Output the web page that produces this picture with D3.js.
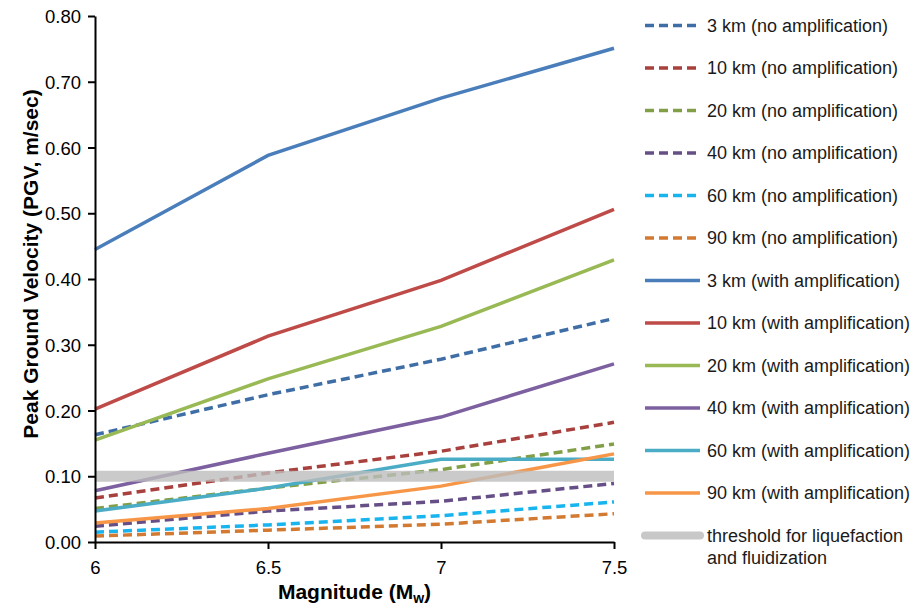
<!DOCTYPE html>
<html lang="en">
<head>
<meta charset="utf-8">
<style>
body { margin: 0; background: #fff; font-family: "Liberation Sans", Arial, Helvetica, sans-serif; }
.tick text { font-size: 18.5px; fill: #000; }
.domain, .tick line { stroke: #000; stroke-width: 2px; }
.legend text { font-size: 18px; fill: #1a1a1a; }
.title { font-size: 21px; font-weight: bold; fill: #000; }
</style>
</head>
<body>
<script src="https://cdn.jsdelivr.net/npm/d3@7"></script>
<script>

// magnitudes on the x axis
var magnitudes = [6, 6.5, 7, 7.5];

// peak ground velocity, m/sec
var noAmp3 = [0.163, 0.224, 0.278, 0.340];
var noAmp10 = [0.067, 0.105, 0.138, 0.182];
var noAmp20 = [0.051, 0.082, 0.110, 0.149];
var noAmp40 = [0.024, 0.047, 0.062, 0.089];
var noAmp60 = [0.015, 0.026, 0.040, 0.061];
var noAmp90 = [0.009, 0.018, 0.027, 0.043];
var amp3 = [0.445, 0.588, 0.675, 0.751];
var amp10 = [0.202, 0.313, 0.398, 0.506];
var amp20 = [0.155, 0.248, 0.328, 0.429];
var amp40 = [0.078, 0.135, 0.190, 0.271];
var amp60 = [0.047, 0.082, 0.126, 0.126];
var amp90 = [0.029, 0.051, 0.085, 0.134];
var threshold = [0.10, 0.10, 0.10, 0.10];

var yTicks = [0, 0.1, 0.2, 0.3, 0.4, 0.5, 0.6, 0.7, 0.8];

var series = [
  {name: "3 km (no amplification)", values: noAmp3, color: "#3f6ea6", dash: true},
  {name: "10 km (no amplification)", values: noAmp10, color: "#a8403d", dash: true},
  {name: "20 km (no amplification)", values: noAmp20, color: "#819f46", dash: true},
  {name: "40 km (no amplification)", values: noAmp40, color: "#664f86", dash: true},
  {name: "60 km (no amplification)", values: noAmp60, color: "#18b4ee", dash: true},
  {name: "90 km (no amplification)", values: noAmp90, color: "#d27a32", dash: true},
  {name: "3 km (with amplification)", values: amp3, color: "#4a7ebb", dash: false},
  {name: "10 km (with amplification)", values: amp10, color: "#be4b48", dash: false},
  {name: "20 km (with amplification)", values: amp20, color: "#98b954", dash: false},
  {name: "40 km (with amplification)", values: amp40, color: "#7d60a0", dash: false},
  {name: "60 km (with amplification)", values: amp60, color: "#4bacc6", dash: false},
  {name: "90 km (with amplification)", values: amp90, color: "#f79646", dash: false}
];

var width = 918, height = 609;
var margin = {left: 95, right: 304, top: 16, bottom: 67};

var svg = d3.select("body").append("svg")
    .attr("width", width)
    .attr("height", height);

var x = d3.scaleLinear()
    .domain([6, 7.5])
    .range([margin.left, width - margin.right]);

var y = d3.scaleLinear()
    .domain([0, 0.8])
    .range([height - margin.bottom, margin.top]);

var line = d3.line()
    .x(function(d, i) { return x(magnitudes[i]); })
    .y(function(d) { return y(d); });

// lines
series.forEach(function(s) {
  svg.append("path")
      .attr("d", line(s.values))
      .attr("fill", "none")
      .attr("stroke", s.color)
      .attr("stroke-width", 3.5)
      .attr("stroke-dasharray", s.dash ? "9,5" : null);
});

// threshold band sits on top, semi-transparent
svg.append("path")
    .attr("d", line(threshold))
    .attr("fill", "none")
    .attr("stroke", "#bdbdbd")
    .attr("stroke-opacity", 0.8)
    .attr("stroke-width", 11);

// axes
svg.append("g")
    .attr("transform", "translate(0," + y(0) + ")")
    .call(d3.axisBottom(x).tickValues(magnitudes).tickSize(7).tickSizeOuter(0)
      .tickFormat(d3.format("")))
    .call(function(g) { g.selectAll("text").attr("y", 32).attr("dy", 0); });

svg.append("g")
    .attr("transform", "translate(" + x(6) + ",0)")
    .call(d3.axisLeft(y).tickValues(yTicks).tickSize(7).tickSizeOuter(0)
      .tickFormat(d3.format(".2f")))
    .call(function(g) { g.selectAll("text").attr("x", -14).attr("dy", "0.36em"); });

// titles
var xt = svg.append("text")
    .attr("class", "title")
    .attr("x", x(6.75))
    .attr("y", 599)
    .attr("text-anchor", "middle");
xt.append("tspan").text("Magnitude (M");
xt.append("tspan").attr("font-size", "14px").attr("dy", 4).text("w");
xt.append("tspan").attr("dy", -4).text(")");

svg.append("text")
    .attr("class", "title")
    .attr("transform", "translate(38,264) rotate(-90)")
    .attr("text-anchor", "middle")
    .text("Peak Ground Velocity (PGV, m/sec)");

// legend
var legend = svg.append("g").attr("class", "legend");
var rowH = 42.5, ly0 = 25.5;

series.forEach(function(s, i) {
  var ly = ly0 + i * rowH;
  legend.append("line")
      .attr("x1", 645).attr("x2", 700)
      .attr("y1", ly).attr("y2", ly)
      .attr("stroke", s.color)
      .attr("stroke-width", 3.5)
      .attr("stroke-dasharray", s.dash ? "9,5" : null);
  legend.append("text")
      .attr("x", 707).attr("y", ly)
      .attr("dy", "0.35em")
      .text(s.name);
});

var ty = ly0 + series.length * rowH;
legend.append("line")
    .attr("x1", 645).attr("x2", 700)
    .attr("y1", ty).attr("y2", ty)
    .attr("stroke", "#c8c8c8")
    .attr("stroke-width", 8)
    .attr("stroke-linecap", "round");
legend.append("text")
    .attr("x", 707).attr("y", ty)
    .attr("dy", "0.35em")
    .text("threshold for liquefaction");
legend.append("text")
    .attr("x", 707).attr("y", ty + 22)
    .attr("dy", "0.35em")
    .text("and fluidization");

</script>
</body>
</html>
